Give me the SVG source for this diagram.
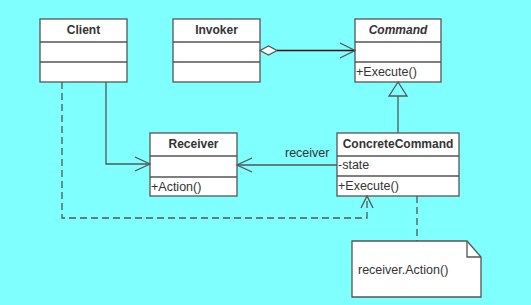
<svg xmlns="http://www.w3.org/2000/svg" width="531" height="305" viewBox="0 0 531 305">
<style>
.box{fill:#fff;stroke:#555;stroke-width:1.3}
.div{stroke:#555;stroke-width:1.3}
.t{font-family:"Liberation Sans",Arial,sans-serif;font-size:12.5px;fill:#333}
.b{font-weight:bold;font-size:12px;text-anchor:middle}
.ln{fill:none;stroke:#555;stroke-width:1.3}
.dash{fill:none;stroke:#555;stroke-width:1.3;stroke-dasharray:7,4}
</style>
<rect width="531" height="305" fill="#80FFFF"/>
<g id="client">
<rect class="box" x="40" y="19" width="87" height="63"/>
<line class="div" x1="40" y1="42" x2="127" y2="42"/>
<line class="div" x1="40" y1="62" x2="127" y2="62"/>
<text class="t b" x="83.5" y="34">Client</text>
</g>
<g id="invoker">
<rect class="box" x="173" y="19" width="87" height="63"/>
<line class="div" x1="173" y1="42" x2="260" y2="42"/>
<line class="div" x1="173" y1="62" x2="260" y2="62"/>
<text class="t b" x="216.5" y="34">Invoker</text>
</g>
<g id="command">
<rect class="box" x="355" y="19" width="86" height="63"/>
<line class="div" x1="355" y1="42" x2="441" y2="42"/>
<line class="div" x1="355" y1="62" x2="441" y2="62"/>
<text class="t b" x="398" y="34" font-style="italic">Command</text>
<text class="t" x="356" y="76">+Execute()</text>
</g>
<g id="receiver">
<rect class="box" x="150" y="133" width="87" height="63"/>
<line class="div" x1="150" y1="156" x2="237" y2="156"/>
<line class="div" x1="150" y1="177" x2="237" y2="177"/>
<text class="t b" x="193.5" y="148">Receiver</text>
<text class="t" x="151" y="191">+Action()</text>
</g>
<g id="concretecommand">
<rect class="box" x="337" y="133" width="122" height="63"/>
<line class="div" x1="337" y1="156" x2="459" y2="156"/>
<line class="div" x1="337" y1="176" x2="459" y2="176"/>
<text class="t b" x="398" y="148">ConcreteCommand</text>
<text class="t" x="338" y="169">-state</text>
<text class="t" x="338" y="190">+Execute()</text>
</g>
<g id="note">
<path class="box" d="M352,241 H467 L481,257 V297 H352 Z"/>
<path class="ln" d="M467,241 V257 H481"/>
<text class="t" x="358" y="274">receiver.Action()</text>
</g>
<g id="connectors">
<path d="M260,50.5 L268.5,46 L277,50.5 L268.5,55 Z" fill="#fff" stroke="#555" stroke-width="1.3"/>
<line x1="277" y1="50.5" x2="355" y2="50.5" stroke="#111" stroke-width="1.3"/>
<path class="ln" d="M340,43 L355,50.5 L340,58"/>
<line class="ln" x1="398" y1="96" x2="398" y2="133"/>
<path d="M398,82 L389,96 L407,96 Z" fill="#80FFFF" stroke="#555" stroke-width="1.3"/>
<line class="ln" x1="237" y1="165" x2="337" y2="165"/>
<path class="ln" d="M252,158 L237,165 L252,172"/>
<text class="t" x="285" y="157" fill="#555">receiver</text>
<path class="ln" d="M106,82 V164 H150"/>
<path class="ln" d="M135,157 L150,164 L135,171"/>
<path class="dash" d="M62,82 V218 H367 V197"/>
<path class="ln" d="M361,208 L367,196 L373,208"/>
<line class="dash" x1="417" y1="196" x2="417" y2="241"/>
</g>
</svg>
